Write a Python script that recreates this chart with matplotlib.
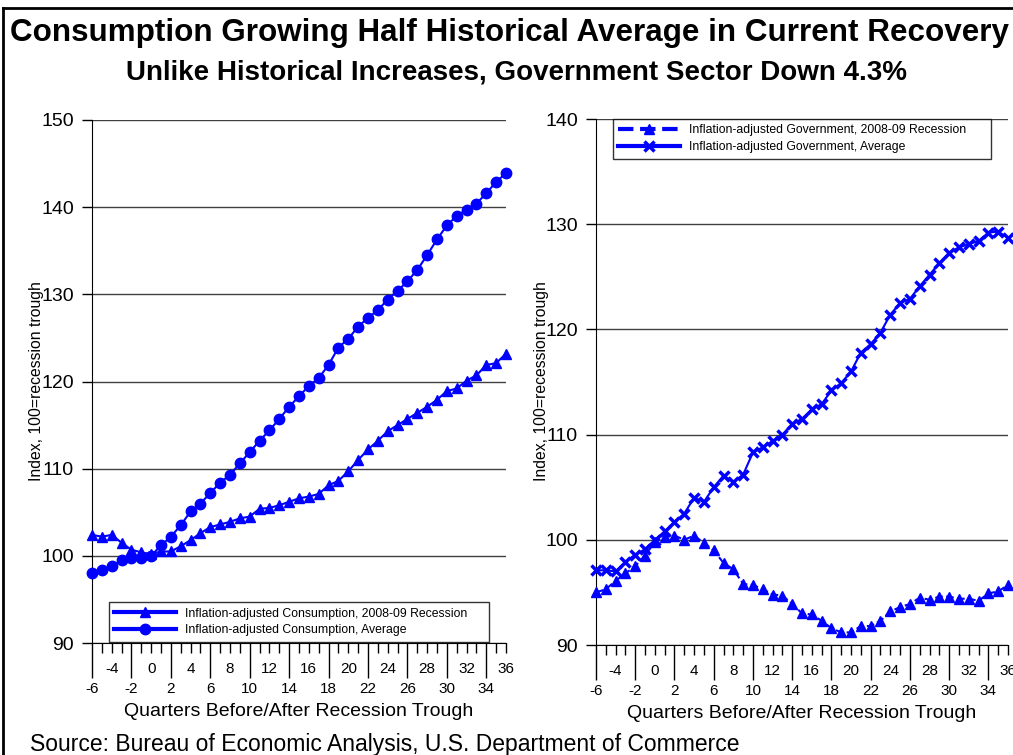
import matplotlib
matplotlib.use("Agg")
import matplotlib.pyplot as plt
from matplotlib.lines import Line2D

plt.rcParams['font.family'] = ['Liberation Sans', 'DejaVu Sans']

quarters = list(range(-6, 37))

cons_recession = [102.4, 102.2, 102.4, 101.5, 100.7, 100.4, 100.2, 100.5, 100.5, 101.1,
                  101.8, 102.6, 103.3, 103.6, 103.9, 104.3, 104.5, 105.4, 105.5, 105.8,
                  106.2, 106.6, 106.8, 107.1, 108.1, 108.6, 109.7, 111.0, 112.2, 113.2,
                  114.3, 115.0, 115.7, 116.4, 117.1, 117.9, 118.9, 119.2, 120.1, 120.7,
                  121.9, 122.1, 123.2]
cons_average = [98.0, 98.4, 98.8, 99.5, 99.7, 99.7, 100.0, 101.2, 102.2, 103.5,
                105.1, 106.0, 107.2, 108.4, 109.3, 110.6, 111.9, 113.2, 114.4, 115.7,
                117.1, 118.3, 119.5, 120.4, 121.9, 123.9, 124.9, 126.3, 127.3, 128.2,
                129.4, 130.4, 131.5, 132.8, 134.5, 136.3, 137.9, 139.0, 139.7, 140.4,
                141.6, 142.9, 143.9]

gov_recession = [95.0, 95.3, 96.1, 96.8, 97.5, 98.5, 99.8, 100.3, 100.4, 100.0,
                 100.4, 99.7, 99.0, 97.8, 97.2, 95.8, 95.7, 95.3, 94.8, 94.7,
                 93.9, 93.0, 92.9, 92.3, 91.6, 91.2, 91.2, 91.8, 91.8, 92.3,
                 93.2, 93.6, 93.9, 94.5, 94.3, 94.6, 94.6, 94.4, 94.4, 94.2,
                 94.9, 95.1, 95.7]
gov_average = [97.1, 97.1, 97.0, 97.9, 98.6, 99.1, 100.0, 100.8, 101.7, 102.5,
               104.0, 103.6, 105.0, 106.1, 105.5, 106.2, 108.3, 108.8, 109.4, 110.0,
               111.0, 111.5, 112.4, 112.9, 114.2, 114.9, 116.0, 117.8, 118.6, 119.7,
               121.4, 122.5, 122.9, 124.1, 125.2, 126.3, 127.3, 127.8, 128.1, 128.4,
               129.2, 129.3, 128.7]

title = "Consumption Growing Half Historical Average in Current Recovery"
subtitle = "Unlike Historical Increases, Government Sector Down 4.3%"
ylabel = "Index, 100=recession trough"
xlabel = "Quarters Before/After Recession Trough"
source = "Source: Bureau of Economic Analysis, U.S. Department of Commerce"

blue = "#0000FF"

fig = plt.figure(figsize=(10.13, 7.55), dpi=100)

W, H = 1013, 755


def axes_at(x0, x1, ytop, ybot):
    return fig.add_axes([x0 / W, 1 - ybot / H, (x1 - x0) / W, (ybot - ytop) / H])


def style_axes(ax, ymax):
    ax.set_xlim(-6, 36)
    ax.set_ylim(90, ymax)
    ax.spines['top'].set_visible(False)
    ax.spines['right'].set_visible(False)
    ax.set_yticks(range(90, ymax + 1, 10))
    ax.yaxis.grid(True, color='#404040', lw=1)
    ax.set_axisbelow(True)
    ax.tick_params(axis='y', length=7, width=1, labelsize=14, pad=6)
    # long ticks with lower-row labels
    major = list(range(-6, 35, 4))
    ax.set_xticks(major)
    ax.set_xticklabels([str(v) for v in major])
    # short ticks every quarter, upper-row labels
    ax.set_xticks(quarters, minor=True)
    ax.set_xticklabels([str(q) if q % 4 == 0 else "" for q in quarters], minor=True)
    ax.tick_params(axis='x', which='major', length=25, width=1, labelsize=11, pad=3)
    ax.tick_params(axis='x', which='minor', length=7, width=1, labelsize=11, pad=7)
    ax.set_xlabel(xlabel, fontsize=14, labelpad=5)


def style_legend(leg):
    leg.get_frame().set_linewidth(1)
    for line in leg.get_lines():
        line.set_linewidth(3)


# left chart
ax1 = axes_at(92, 506, 120, 643)
style_axes(ax1, 150)
ax1.plot(quarters, cons_recession, color=blue, lw=1.5, marker='^', ms=7.5,
         clip_on=False, zorder=3, label="Inflation-adjusted Consumption, 2008-09 Recession")
ax1.plot(quarters, cons_average, color=blue, lw=1.5, marker='o', ms=7.5,
         clip_on=False, zorder=3, label="Inflation-adjusted Consumption, Average")
leg1 = ax1.legend(loc='lower left', bbox_to_anchor=(0.041, 0.002, 0.918, 0.088),
                  mode='expand', fontsize=8.8, frameon=True, fancybox=False,
                  edgecolor='black', borderaxespad=0, handlelength=5,
                  labelspacing=0.4, borderpad=0.45)
style_legend(leg1)

# right chart
ax2 = axes_at(596, 1008, 119, 645)
style_axes(ax2, 140)
ax2.plot(quarters, gov_recession, color=blue, lw=1.5, ls='--', marker='^', ms=7.5,
         clip_on=False, zorder=3, label="Inflation-adjusted Government, 2008-09 Recession")
ax2.plot(quarters, gov_average, color=blue, lw=1.5, marker='x', ms=7, mew=2.5,
         clip_on=False, zorder=3, label="Inflation-adjusted Government, Average")
leg2 = ax2.legend(loc='upper left', bbox_to_anchor=(0.041, 0.0, 0.918, 1.0),
                  mode='expand', fontsize=8.8, frameon=True, fancybox=False,
                  edgecolor='black', borderaxespad=0, handlelength=5,
                  labelspacing=0.4, borderpad=0.45)
style_legend(leg2)

# y labels, placed like the original (overlapping the tick labels slightly)
fig.text(37 / W, 1 - 381 / H, ylabel, rotation=90, ha='center', va='center', fontsize=11.3)
fig.text(541 / W, 1 - 381 / H, ylabel, rotation=90, ha='center', va='center', fontsize=11.3)

fig.text(509 / W, 1 - 33 / H, title, ha='center', va='center', fontsize=22.6, fontweight='bold')
fig.text(516 / W, 1 - 73 / H, subtitle, ha='center', va='center', fontsize=20, fontweight='bold')
fig.text(30 / W, 1 - 744 / H, source, ha='left', va='center', fontsize=16.5)

# outer frame
fig.add_artist(Line2D([3 / W, 1], [1 - 8 / H, 1 - 8 / H], color='black', lw=2,
                      transform=fig.transFigure))
fig.add_artist(Line2D([3 / W, 3 / W], [0, 1 - 8 / H], color='black', lw=2,
                      transform=fig.transFigure))

fig.savefig("out.png", dpi=100)
